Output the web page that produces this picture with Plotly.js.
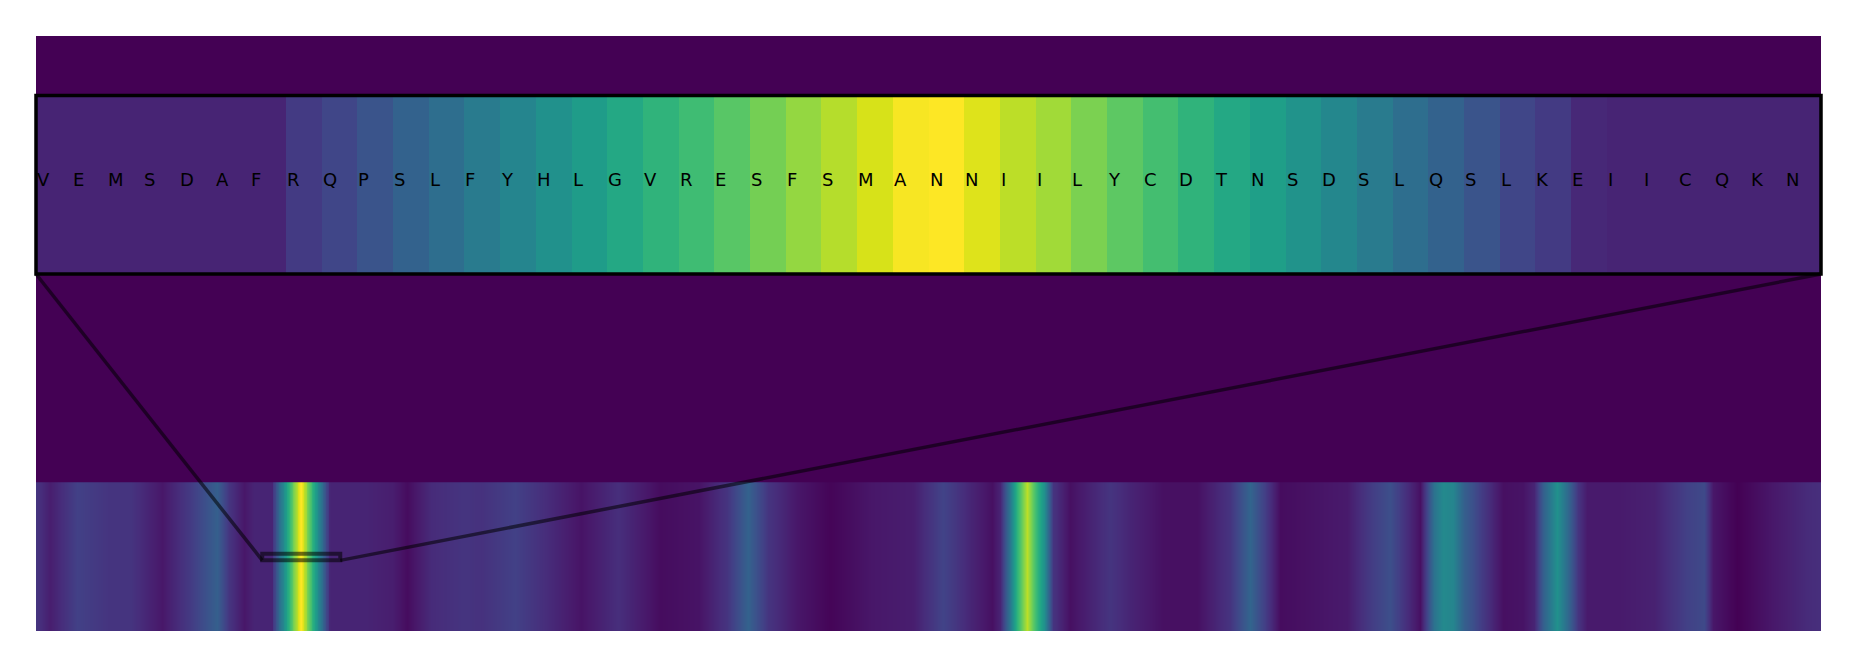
<!DOCTYPE html>
<html>
<head>
<meta charset="utf-8">
<script src="https://cdn.plot.ly/plotly-3.0.1.min.js"></script>
<style>
html,body{margin:0;padding:0;background:#ffffff;}
#chart{width:1857px;height:667px;}
</style>
</head>
<body>
<div id="chart"></div>
<script>
// ---- data ----
const residues = ["V","E","M","S","D","A","F","R","Q","P","S","L","F","Y","H","L","G","V","R","E","S","F","S","M","A","N","N","I","I","L","Y","C","D","T","N","S","D","S","L","Q","S","L","K","E","I","I","C","Q","K","N"];
const insetValues = [0.10,0.10,0.10,0.10,0.10,0.10,0.10,0.17,0.21,0.26,0.31,0.36,0.41,0.45,0.50,0.55,0.60,0.65,0.69,0.74,0.79,0.84,0.89,0.94,0.99,1.00,0.95,0.90,0.86,0.80,0.75,0.70,0.65,0.60,0.56,0.51,0.46,0.41,0.36,0.31,0.26,0.21,0.17,0.11,0.10,0.10,0.10,0.10,0.10,0.10];
const insetStart = 145;      // first residue of the zoomed window
const sequenceLength = 1144; // residues in the full strip
const stripPositions = [0,9,26,46,60,81,99,116,124,133,140,
  210,228,238,253,274,285,307,328,349,373,400,425,443,456,469,488,509,536,562,581,599,613,618,624,629,635,639,646,652,663,688,701,722,744,765,778,787,797,819,840,855,868,881,887,896,902,908,915,921,927,934,940,953,960,966,975,981,988,994,1015,1037,1058,1069,1075,1090,1112,1135,1143];
const stripValues = [0.15,0.08,0.19,0.15,0.15,0.06,0.17,0.30,0.15,0.06,0.10,
  0.10,0.08,0.03,0.12,0.15,0.14,0.19,0.12,0.05,0.13,0.03,0.05,0.15,0.31,0.15,0.06,0.01,0.06,0.08,0.20,0.10,0.04,0.10,0.40,0.65,0.90,0.75,0.50,0.15,0.04,0.15,0.10,0.04,0.04,0.15,0.32,0.19,0.03,0.05,0.07,0.17,0.24,0.10,0.04,0.38,0.47,0.45,0.30,0.24,0.17,0.10,0.04,0.05,0.10,0.30,0.50,0.35,0.15,0.07,0.07,0.09,0.19,0.22,0.06,0.00,0.06,0.12,0.13];

// ---- merge strip samples with the zoomed residues ----
const windowLen = residues.length;
const pts = [];
stripPositions.forEach((p, i) => pts.push([p, stripValues[i]]));
insetValues.forEach((v, i) => pts.push([insetStart + i, v]));
pts.sort((a, b) => a[0] - b[0]);
const mergedX = pts.map(p => p[0]);
const mergedZ = pts.map(p => p[1]);

const insetDomain = [0.6, 0.9];
const yMax = 4;
const rectY = [0.475, 0.52];

const strip = {
  type: 'heatmap', x: mergedX, y: [0.25, 0.75], z: [mergedZ, mergedZ],
  colorscale: 'Viridis', zmin: 0, zmax: 1, zsmooth: 'best', showscale: false,
  xaxis: 'x', yaxis: 'y', hoverinfo: 'skip'
};
const inset = {
  type: 'heatmap', x: residues.map((_, i) => i), y: [0], z: [insetValues],
  colorscale: 'Viridis', zmin: 0, zmax: 1, zsmooth: false, showscale: false,
  xaxis: 'x2', yaxis: 'y2', hoverinfo: 'skip'
};

const annotations = residues.map((r, i) => ({
  x: i - 0.5, y: 0, xref: 'x2', yref: 'y2', text: r, showarrow: false,
  xanchor: 'left', yanchor: 'middle', yshift: 5, borderpad: 0,
  font: {family: 'DejaVu Sans', size: 18, color: '#000000'}
}));

const connColor = 'rgba(0,0,0,0.55)';
const shapes = [
  {type: 'rect', xref: 'x', yref: 'y', x0: insetStart, x1: insetStart + windowLen, y0: rectY[0], y1: rectY[1],
   line: {color: connColor, width: 4}},
  {type: 'line', xref: 'paper', yref: 'paper', x0: 0, y0: insetDomain[0],
   x1: insetStart / sequenceLength, y1: rectY[0] / yMax, line: {color: connColor, width: 3.5}},
  {type: 'line', xref: 'paper', yref: 'paper', x0: 1, y0: insetDomain[0],
   x1: (insetStart + windowLen) / sequenceLength, y1: rectY[0] / yMax, line: {color: connColor, width: 3.5}},
  {type: 'rect', xref: 'paper', yref: 'paper', x0: 0, x1: 1, y0: insetDomain[0], y1: insetDomain[1],
   line: {color: '#000000', width: 3.5}}
];

const hidden = {showgrid: false, zeroline: false, showticklabels: false, ticks: '', showline: false, fixedrange: true};
const layout = {
  width: 1857, height: 667,
  margin: {l: 36, r: 36, t: 36, b: 36, pad: 0},
  paper_bgcolor: '#ffffff', plot_bgcolor: '#440154',
  showlegend: false, hovermode: false,
  xaxis: Object.assign({domain: [0, 1], range: [0, sequenceLength], anchor: 'y'}, hidden),
  yaxis: Object.assign({domain: [0, 1], range: [0, yMax], anchor: 'x'}, hidden),
  xaxis2: Object.assign({domain: [0, 1], range: [-0.5, windowLen - 0.5], anchor: 'y2'}, hidden),
  yaxis2: Object.assign({domain: insetDomain, range: [-0.5, 0.5], anchor: 'x2'}, hidden),
  annotations: annotations,
  shapes: shapes
};

Plotly.newPlot('chart', [strip, inset], layout, {displayModeBar: false, staticPlot: true});
</script>
</body>
</html>
